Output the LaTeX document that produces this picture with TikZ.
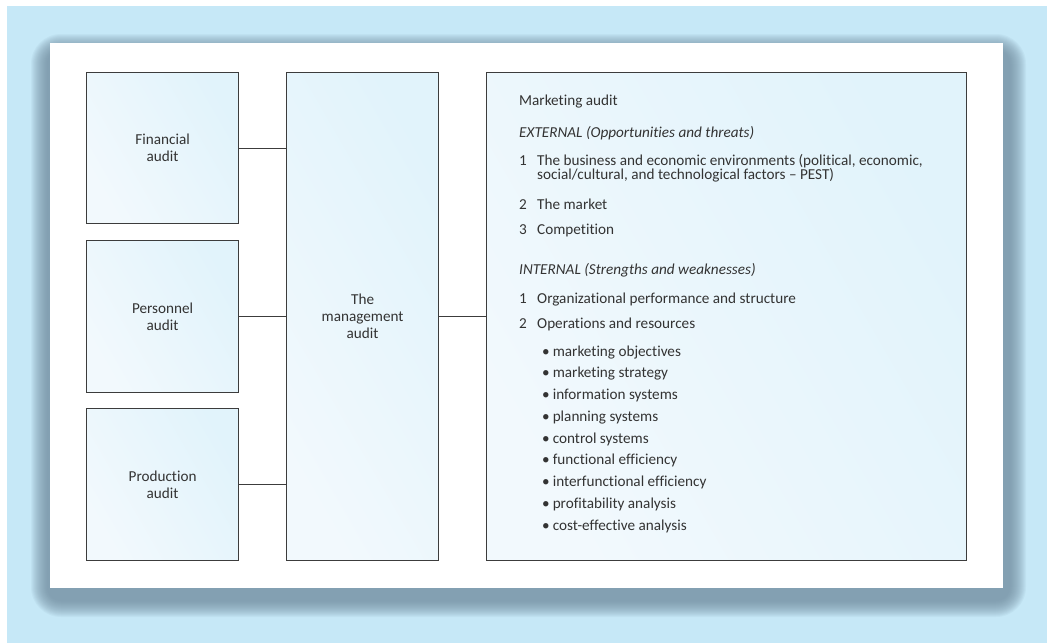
\documentclass[tikz,border=0pt]{standalone}
\usepackage{fontspec}
\setmainfont[Ligatures=NoCommon]{Carlito}
\definecolor{bgblue}{HTML}{C6E8F7}
\definecolor{shadowc}{HTML}{6F8A9C}
\definecolor{boxA}{HTML}{F2F9FD}
\definecolor{boxB}{HTML}{E1F3FB}
\definecolor{txt}{HTML}{333333}
\definecolor{edge}{HTML}{3C3C3C}
\begin{document}
\begin{tikzpicture}[x=1pt,y=-1pt,
  font=\fontsize{15.2}{17}\selectfont, text=txt,
  box/.style={draw=edge, line width=1.2pt, left color=boxA, right color=boxB, shading angle=120, anchor=north west, align=center, inner sep=0pt},
  ln/.style={anchor=base west, inner sep=0pt},
  conn/.style={draw=edge, line width=1.2pt}]
\useasboundingbox (0,0) rectangle (1047,643);
% background
\fill[white] (0,0) rectangle (1047,643);
\fill[bgblue] (7,6) rectangle (1047,643);
% shadow
\foreach \i in {16,15,...,0}{
  \fill[shadowc, opacity=0.07, rounded corners={14pt+\i pt}]
    (47-\i,50-\i) rectangle (1010+\i,601+\i);
}
% panel
\fill[white] (50,43) rectangle (1003,588);
% boxes
\node[box, minimum width=152pt, minimum height=151pt] (fin) at (86,72) {Financial\\audit};
\node[box, minimum width=152pt, minimum height=152pt] (pers) at (86,240) {Personnel\\audit};
\node[box, minimum width=152pt, minimum height=152pt] (prod) at (86,408) {Production\\audit};
\node[box, minimum width=152pt, minimum height=488pt] (mgmt) at (286,72) {The\\management\\audit};
\node[box, minimum width=480pt, minimum height=488pt] (mkt) at (486,72) {};
% connectors
\draw[conn] (fin.east) -- (fin.east -| mgmt.west);
\draw[conn] (pers.east) -- (pers.east -| mgmt.west);
\draw[conn] (prod.east) -- (prod.east -| mgmt.west);
\draw[conn] (mgmt.east) -- (mkt.west);
% marketing text
\node[ln] (t0) at (519,105) {Marketing audit};
\node[ln] (t1) at (519,137) {\itshape EXTERNAL (Opportunities and threats)};
\node[ln] (n1) at (519,165) {1};
\node[ln] (e1a) at (537,165) {The business and economic environments (political, economic,};
\node[ln] (e1b) at (537,179) {social/cultural, and technological factors -- PEST)};
\node[ln] (n2) at (519,209) {2};
\node[ln] (e2) at (537,209) {The market};
\node[ln] (n3) at (519,234) {3};
\node[ln] (e3) at (537,234) {Competition};
\node[ln] (t2) at (519,274) {\itshape INTERNAL (Strengths and weaknesses)};
\node[ln] (n4) at (519,303) {1};
\node[ln] (i1) at (537,303) {Organizational performance and structure};
\node[ln] (n5) at (519,328) {2};
\node[ln] (i2) at (537,328) {Operations and resources};
\foreach \t [count=\k from 0] in {marketing objectives,marketing strategy,information systems,planning systems,control systems,functional efficiency,interfunctional efficiency,profitability analysis,cost-effective analysis}{
  \node[ln] (b\k) at (542,356+21.75*\k) {•\kern3pt\t};
}
\end{tikzpicture}
\end{document}
